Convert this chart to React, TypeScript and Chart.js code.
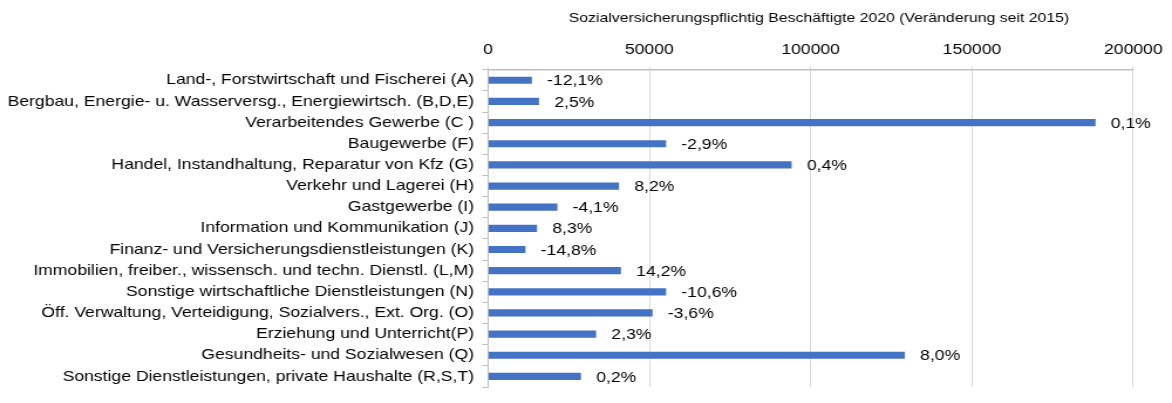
import React, { useEffect, useRef } from "react";
import { Chart, registerables } from "chart.js";

Chart.register(...registerables);

const categories = [
  "Land-, Forstwirtschaft und Fischerei (A)",
  "Bergbau, Energie- u. Wasserversg., Energiewirtsch. (B,D,E)",
  "Verarbeitendes Gewerbe (C )",
  "Baugewerbe (F)",
  "Handel, Instandhaltung, Reparatur von Kfz (G)",
  "Verkehr und Lagerei (H)",
  "Gastgewerbe (I)",
  "Information und Kommunikation (J)",
  "Finanz- und Versicherungsdienstleistungen (K)",
  "Immobilien, freiber., wissensch. und techn. Dienstl. (L,M)",
  "Sonstige wirtschaftliche Dienstleistungen (N)",
  "Öff. Verwaltung, Verteidigung, Sozialvers., Ext. Org. (O)",
  "Erziehung und Unterricht(P)",
  "Gesundheits- und Sozialwesen (Q)",
  "Sonstige Dienstleistungen, private Haushalte (R,S,T)",
];

const employees2020 = [
  13600, 15800, 188300, 55200, 94100, 40600, 21500, 15200, 11600, 41200,
  55200, 51000, 33500, 129200, 28800,
];

const changeLabels = [
  "-12,1%", "2,5%", "0,1%", "-2,9%", "0,4%", "8,2%", "-4,1%", "8,3%",
  "-14,8%", "14,2%", "-10,6%", "-3,6%", "2,3%", "8,0%", "0,2%",
];

const xTicks = [0, 50000, 100000, 150000, 200000];

const titleText =
  "Sozialversicherungspflichtig Beschäftigte 2020 (Veränderung seit 2015)";

const FONT = "Arial, 'Liberation Sans', sans-serif";

// internal drawing width; the canvas is displayed stretched to 1172px
const INNER_W = 1000;
const OUT_W = 1172;
const OUT_H = 403;

const valueLabelPlugin = {
  id: "valueLabels",
  afterDatasetsDraw(chart: any) {
    const ctx = chart.ctx;
    const meta = chart.getDatasetMeta(0);
    ctx.save();
    ctx.font = `15px ${FONT}`;
    ctx.fillStyle = "#000";
    ctx.textAlign = "left";
    ctx.textBaseline = "middle";
    meta.data.forEach((bar: any, i: number) => {
      ctx.fillText(changeLabels[i], bar.x + 13, bar.y + 1);
    });
    ctx.restore();
  },
};

const plotTitlePlugin = {
  id: "plotTitle",
  afterDraw(chart: any) {
    const ctx = chart.ctx;
    const { left, right } = chart.chartArea;
    ctx.save();
    ctx.font = `13.5px ${FONT}`;
    ctx.fillStyle = "#000";
    ctx.textAlign = "center";
    ctx.textBaseline = "middle";
    ctx.fillText(titleText, (left + right) / 2 + 7, 18);
    ctx.restore();
  },
};

export default function App() {
  const ref = useRef<HTMLCanvasElement>(null);
  useEffect(() => {
    if (!ref.current) return;
    const chart = new Chart(ref.current, {
      type: "bar",
      data: {
        labels: categories,
        datasets: [
          {
            data: employees2020,
            backgroundColor: "#4472C4",
            borderWidth: 0,
            barPercentage: 0.34,
            categoryPercentage: 1,
          },
        ],
      },
      options: {
        indexAxis: "y",
        animation: false,
        responsive: false,
        maintainAspectRatio: false,
        devicePixelRatio: 1,
        layout: { padding: { left: 0, right: 31.6, top: 36.2, bottom: 0 } },
        plugins: {
          legend: { display: false },
          tooltip: { enabled: false },
          title: { display: false },
        },
        scales: {
          x: {
            position: "top",
            min: 0,
            max: 200000,
            afterBuildTicks: (axis: any) => {
              axis.ticks = xTicks.map((v) => ({ value: v }));
            },
            afterFit: (axis: any) => {
              axis.height = 33.5;
            },
            ticks: {
              color: "#000",
              font: { family: FONT, size: 15 },
              padding: 8,
              maxRotation: 0,
              callback: (v: any) => String(v),
            },
            grid: {
              color: "#d9d9d9",
              lineWidth: 1,
              tickLength: 3,
              drawTicks: true,
            },
            border: { display: true, color: "#bfbfbf", width: 1.5 },
          },
          y: {
            afterFit: (axis: any) => {
              axis.width = 416.4;
            },
            ticks: {
              color: "#000",
              font: { family: FONT, size: 15 },
              padding: 7,
              autoSkip: false,
            },
            grid: {
              drawOnChartArea: false,
              drawTicks: true,
              tickLength: 5,
              color: "#bfbfbf",
              offset: true,
            },
            border: { display: true, color: "#bfbfbf", width: 1 },
          },
        },
      },
      plugins: [valueLabelPlugin, plotTitlePlugin],
    });
    return () => chart.destroy();
  }, []);
  return (
    <div
      style={{
        position: "fixed",
        left: 0,
        top: 0,
        width: OUT_W,
        height: OUT_H,
        background: "#fff",
        overflow: "hidden",
      }}
    >
      <canvas
        ref={ref}
        width={INNER_W}
        height={OUT_H}
        style={{ width: OUT_W, height: OUT_H, display: "block" }}
      />
    </div>
  );
}
